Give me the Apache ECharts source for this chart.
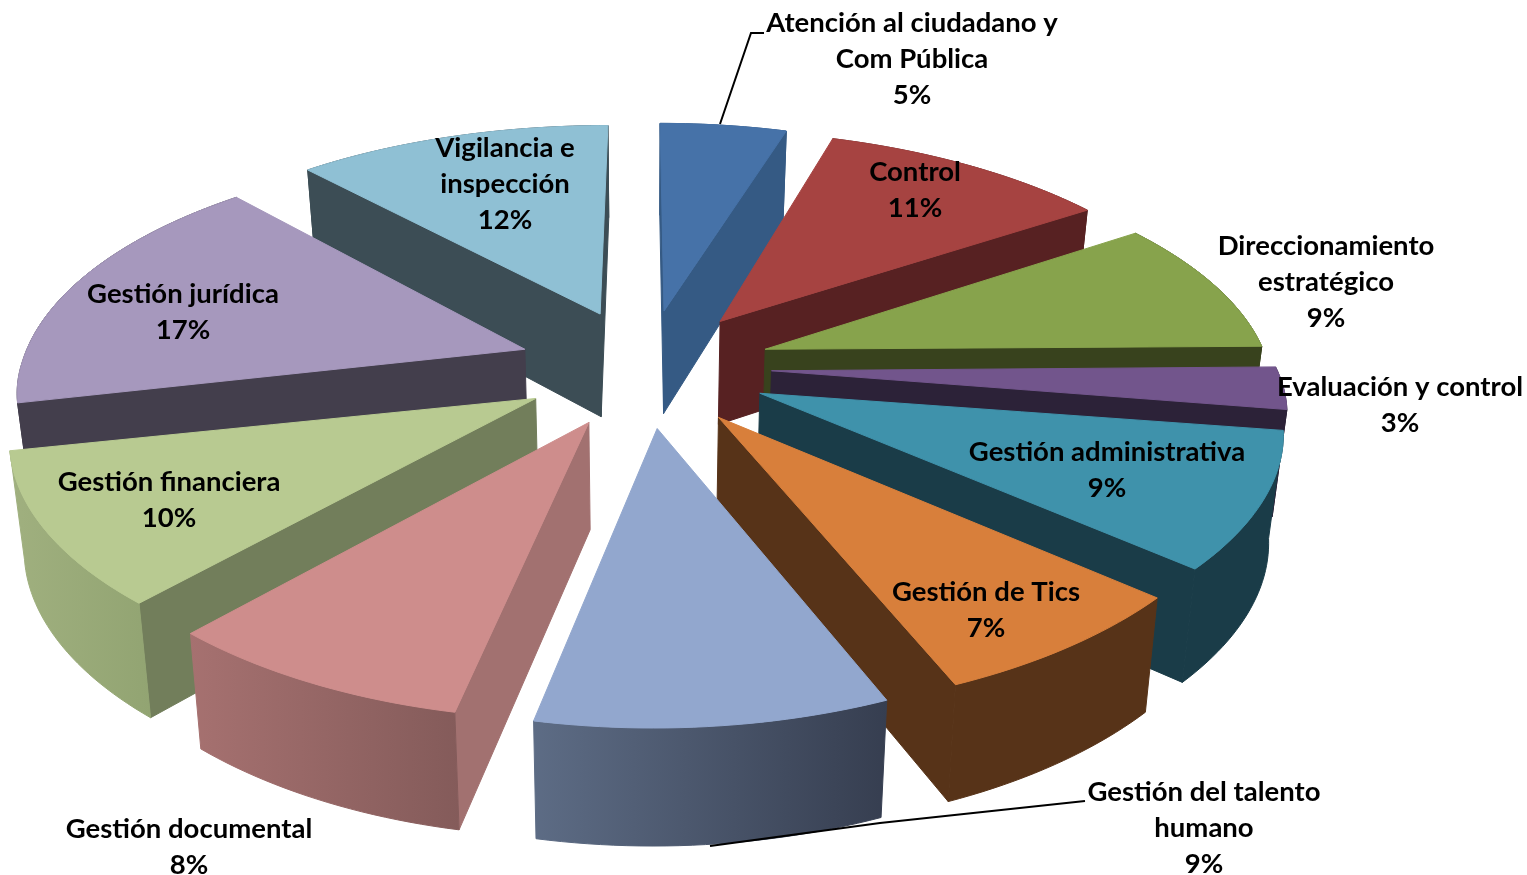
<!DOCTYPE html>
<html>
<head>
<meta charset="utf-8">
<title>Gestión</title>
<script src="https://cdn.jsdelivr.net/npm/echarts@6/dist/echarts.min.js"></script>
<style>
  html, body { margin: 0; padding: 0; background: #fff; }
  #chart { width: 1527px; height: 875px; }
</style>
</head>
<body>
<div id="chart"></div>
<script>
const categories = [
  'Atención al ciudadano y\nCom Pública', 'Control', 'Direccionamiento\nestratégico',
  'Evaluación y control', 'Gestión administrativa', 'Gestión de Tics',
  'Gestión del talento\nhumano', 'Gestión documental', 'Gestión financiera',
  'Gestión jurídica', 'Vigilancia e\ninspección'
]
const values = [5, 11, 9, 3, 9, 7, 9, 8, 10, 17, 12]

// face colours per slice
const topColors = ['#4672a8', '#a64341', '#87a34c', '#72558c', '#3f92ab', '#d87f3b', '#92a7ce', '#ce8d8c', '#b8ca91', '#a698bd', '#8fc0d4']
const sideColors = ['#355a84', '#572122', '#38421d', '#2c2238', '#1a3c48', '#573318', '#5d6c85', '#a27170', '#727e5b', '#433e4c', '#3c4d55']
const rimLeft = ['#355a84', '#572122', '#38421d', '#2c2238', '#1a3c48', '#573318', '#5d6c85', '#a67170', '#a0b07f', '#433e4c', '#3c4d55']
const rimRight = ['#355a84', '#572122', '#38421d', '#2c2238', '#1a3c48', '#573318', '#363e50', '#845b5a', '#92a472', '#433e4c', '#3c4d55']

// label centre x / first line y, same order as categories
const labelX = [912, 915, 1326, 1400, 1107, 986, 1204, 189, 169, 183, 505]
const labelY = [23, 172, 246, 387, 452, 592, 792, 829, 482, 294, 148]

// view of the pie, fitted by eye against the picture
const view = {
  cx: 645, cy: 362, fx: 507,
  fyFront: 216, kyFront: 0.217, fyBack: 238, kyBack: 0.189,
  kx: 0.17, bendFront: 4, skewBack: 10,
  explode: 0.24, apexSpread: 1.04,
  depth: 105, depthGrow: 0.1, lowScale: 0.977
}

const total = values.reduce((a, b) => a + b, 0)
let acc = 0
const starts = values.map(v => { const s = acc; acc += v; return s })

const project = (px, py, low) => {
  const sx = 1 / (1 - view.kx * py)
  const sy = py > 0 ? view.fyFront / (1 - view.kyFront * py) : view.fyBack / (1 - view.kyBack * py)
  const bend = py > 0 ? view.bendFront : view.skewBack * Math.max(px, 0)
  return [
    view.cx + view.fx * px * sx * (low ? view.lowScale : 1) - bend * py * py,
    view.cy + py * sy + (low ? view.depth * (1 + view.depthGrow * py) : 0)
  ]
}

const toAngle = pct => pct / total * Math.PI * 2

const renderSlice = (params, api) => {
  const value = api.value(0)
  const start = api.value(1)
  const i = api.value(2)
  const a0 = toAngle(start)
  const a1 = toAngle(start + value)
  const mid = (a0 + a1) / 2
  const ox = view.explode * Math.sin(mid)
  const oy = -view.explode * Math.cos(mid)

  const rim = (a, low) => project(ox + Math.sin(a), oy - Math.cos(a), low)
  // the tip sits a bit further out and lower than the rim projection gives
  const drop = Math.max(3, 3 + 38 * oy)
  const tip = low => {
    const p = project(ox * view.apexSpread, oy, low)
    return [p[0], p[1] + drop]
  }
  const apex = tip(false)
  const apexLow = tip(true)

  const steps = Math.max(4, Math.round(value * 3))
  const arc = []
  const arcLow = []
  for (let k = 0; k <= steps; k++) {
    const a = a0 + (a1 - a0) * k / steps
    arc.push(rim(a, false))
    arcLow.push(rim(a, true))
  }

  const children = []
  const inside = rim(mid, false)
  const wall = a => {
    const e = rim(a, false)
    const ex = e[0] - apex[0]
    const ey = e[1] - apex[1]
    // only the faces turned to the viewer
    const side = ex * (inside[1] - apex[1]) - ey * (inside[0] - apex[0])
    if (ex * side >= 0) return
    children.push({
      type: 'polygon',
      shape: { points: [apex, e, rim(a, true), apexLow] },
      style: { fill: sideColors[i], stroke: sideColors[i], lineWidth: 1 }
    })
  }
  wall(a0)
  wall(a1)

  const rimFill = new echarts.graphic.LinearGradient(0, 0, 1, 0, [
    { offset: 0, color: rimLeft[i] },
    { offset: 1, color: rimRight[i] }
  ])
  children.push({
    type: 'polygon',
    shape: { points: arc.concat(arcLow.slice().reverse()) },
    style: { fill: rimFill, stroke: rimFill, lineWidth: 1 }
  })
  children.push({
    type: 'polygon',
    shape: { points: [apex].concat(arc) },
    style: { fill: topColors[i], stroke: topColors[i], lineWidth: 1 }
  })
  return { type: 'group', children }
}

// back slices first so the front ones cover them
const order = values.map((v, i) => i).sort((a, b) => {
  const m = i => Math.cos(toAngle(starts[i] + values[i] / 2))
  return m(b) - m(a)
})

const labels = categories.map((name, i) => ({
  type: 'text',
  x: labelX[i],
  y: labelY[i] - 18,
  z: 100,
  style: {
    text: name + '\n' + values[i] + '%',
    x: 0,
    y: 0,
    align: 'center',
    verticalAlign: 'top',
    lineHeight: 36,
    font: 'bold 27.5px Lato',
    fill: '#000'
  }
}))

const leaders = [
  [[720, 124], [751, 33], [764, 33]],
  [[710, 846], [880, 823], [1085, 801]]
].map(points => ({
  type: 'polyline',
  z: 90,
  shape: { points },
  style: { stroke: '#000', lineWidth: 2, fill: null }
}))

const chart = echarts.init(document.getElementById('chart'), null, { renderer: 'canvas' })
chart.setOption({
  animation: false,
  backgroundColor: '#fff',
  series: [{
    type: 'custom',
    coordinateSystem: 'none',
    silent: true,
    clip: false,
    renderItem: renderSlice,
    data: order.map(i => [values[i], starts[i], i])
  }],
  graphic: leaders.concat(labels)
})
</script>
</body>
</html>
